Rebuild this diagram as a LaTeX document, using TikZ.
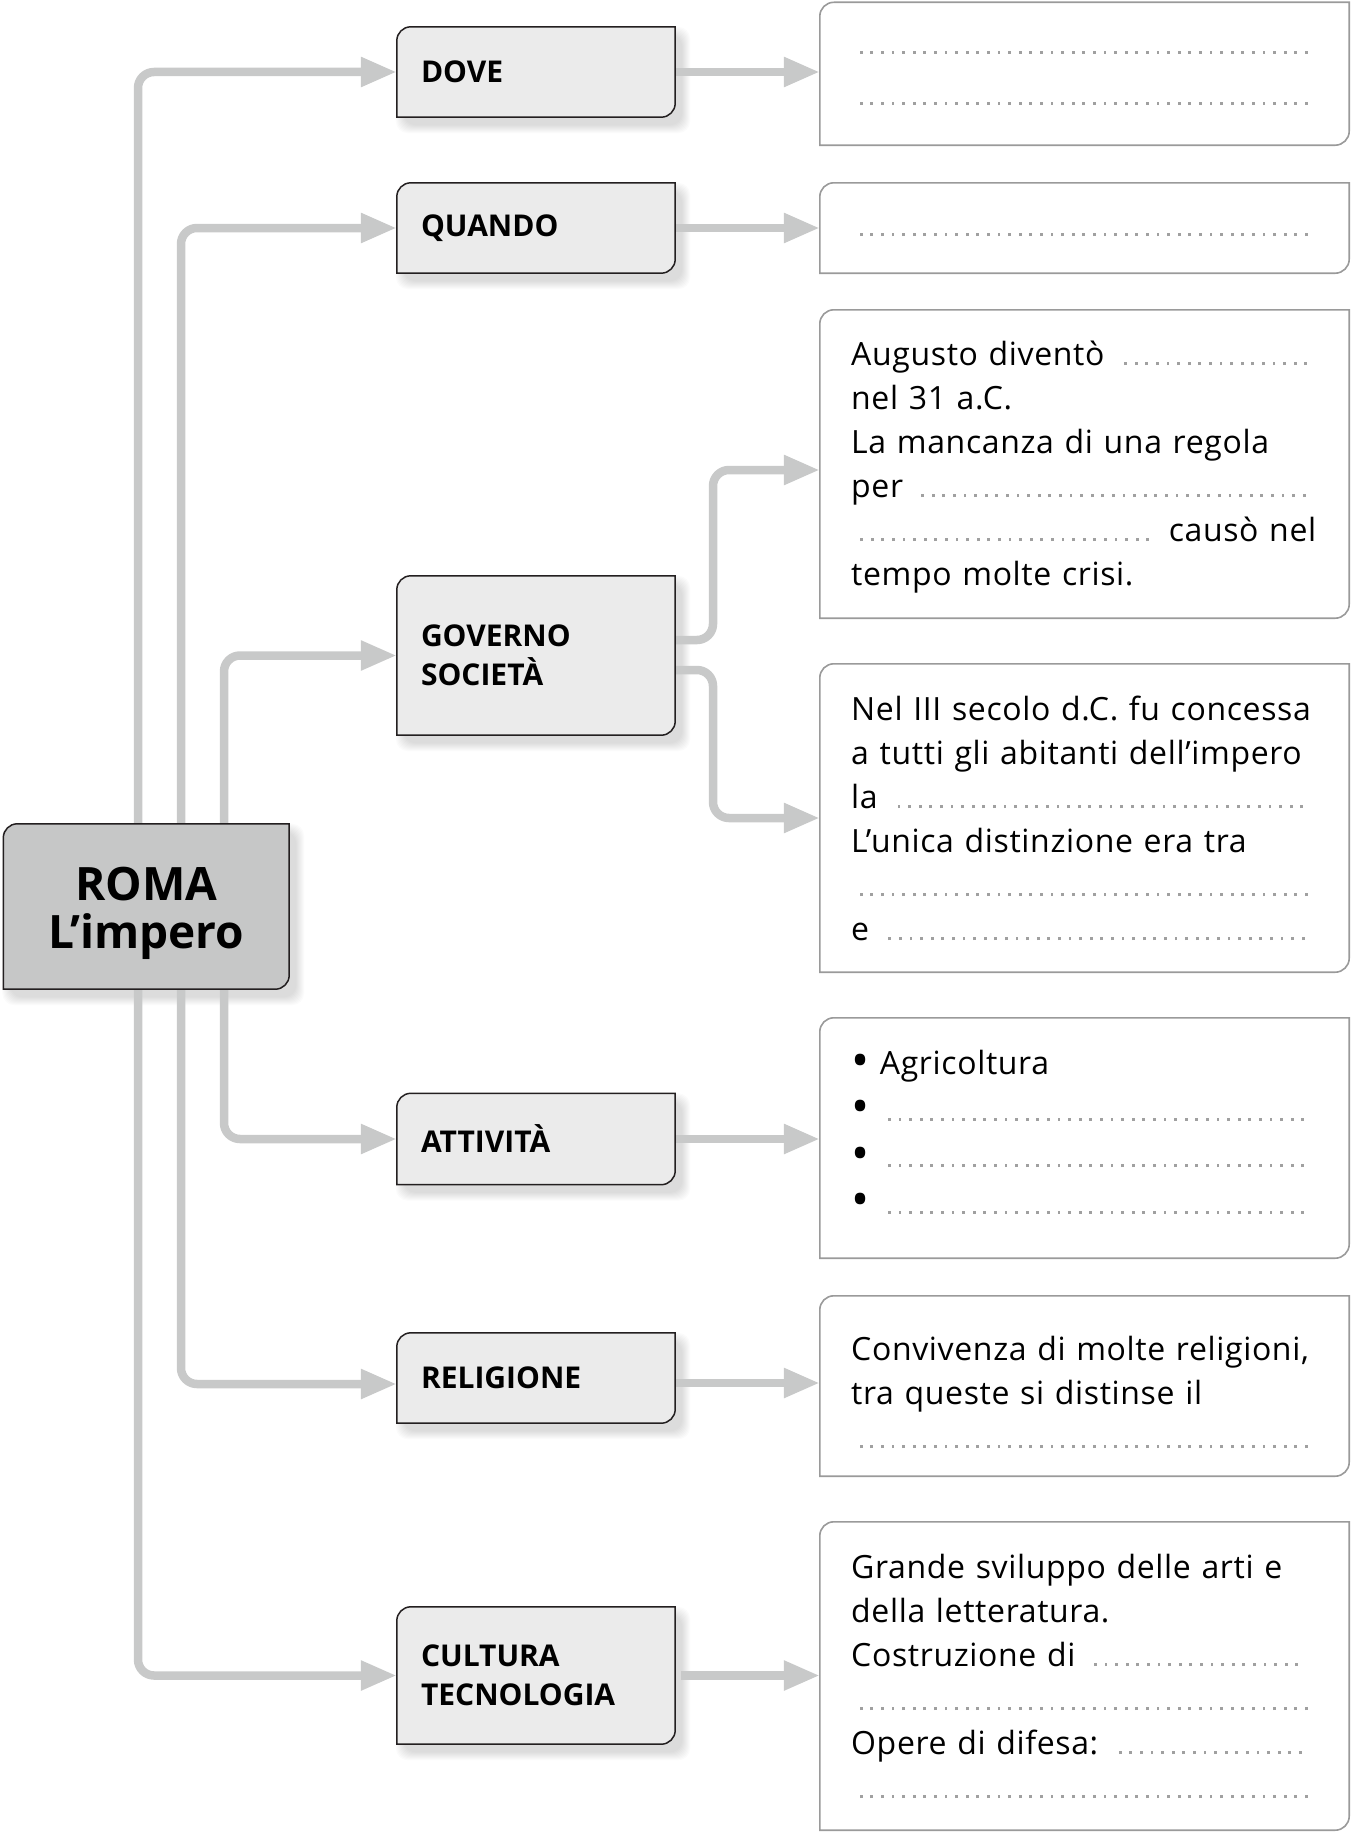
\documentclass[tikz,border=0pt]{standalone}
\usepackage{fontspec}
\setmainfont{Open Sans}
\newfontfamily\bodyfont{Open Sans}[LetterSpace=2]
\usetikzlibrary{arrows.meta}

\definecolor{arrowgray}{HTML}{C8C9C9}
\definecolor{boxfill}{HTML}{EBEBEB}
\definecolor{romafill}{HTML}{C6C7C7}
\definecolor{boxline}{HTML}{231F20}
\definecolor{cardline}{HTML}{9A9A9A}
\definecolor{dotgray}{HTML}{A0A0A0}

\pgfdeclarelayer{shade}
\pgfdeclarelayer{lines}
\pgfdeclarelayer{boxes}
\pgfsetlayers{shade,lines,boxes,main}

% dotted blank to be filled in
\newcommand\dotsfill{\leavevmode\cleaders\hbox to 10.6pt{\hss\textcolor{dotgray}{\rule{2.8pt}{2.8pt}}\hss}\hfill\kern0pt}
% large list bullet
\newcommand\bigbullet{\raisebox{-3pt}{\scalebox{1.5}{•}}}
% one full-width line of an answer box
\newcommand\tline[1]{\makebox[\linewidth][l]{#1}}
% box with rounded top-left and bottom-right corners
\newcommand\cardshape[2]{\path[#1] (#2.south west) -- ([yshift=-14pt]#2.north west)
  arc[start angle=180,end angle=90,radius=14pt] -- (#2.north east)
  -- ([yshift=14pt]#2.south east) arc[start angle=0,end angle=-90,radius=14pt] -- cycle;}
% soft drop shadow behind a box
\newcommand\softshadow[1]{\foreach \s in {0,1,...,8}{\fill[black,opacity=0.016,rounded corners=12pt]
  ([xshift={7-\s},yshift={-8-\s}]#1.south west) rectangle ([xshift={7+\s},yshift={-8+\s}]#1.north east);}}

\tikzset{
  conn/.style={line width=8.5pt, draw=arrowgray, rounded corners=16pt,
    -{Triangle[length=36pt,width=28pt]}},
  topic/.style={minimum width=278pt, text width=230pt, inner xsep=24pt, inner ysep=0pt,
    align=left, font=\fontsize{30}{38.5}\selectfont\bfseries},
  topicbox/.style={fill=boxfill, draw=boxline, line width=1.5pt},
  romabox/.style={fill=romafill, draw=boxline, line width=1.5pt},
  card/.style={minimum width=529pt, inner sep=0pt},
  cardbox/.style={fill=white, draw=cardline, line width=1.6pt},
  answer/.style={anchor=base west, text width=465pt, inner sep=0pt, align=left,
    font=\bodyfont\fontsize{32}{44}\selectfont},
}

\begin{document}
\begin{tikzpicture}[x=1pt,y=1pt]
\useasboundingbox (0,0) rectangle (1351,-1833);

% central topic
\node[minimum width=285.5pt, minimum height=165pt, inner sep=0pt, align=center,
  font=\fontsize{46}{48}\selectfont\bfseries] (roma) at (146.25,-906.5) {\rule{0pt}{47pt}ROMA\\L’impero};

% topics
\node[topic, minimum height=90pt]  (dove)   at (536,-72)     {DOVE};
\node[topic, minimum height=90pt]  (quando) at (536,-228)    {QUANDO};
\node[topic, minimum height=159pt] (gov)    at (536,-655.5)  {GOVERNO\\SOCIETÀ};
\node[topic, minimum height=91pt]  (att)    at (536,-1139)   {ATTIVITÀ};
\node[topic, minimum height=90pt]  (relig)  at (536,-1378)   {RELIGIONE};
\node[topic, minimum height=137pt] (cult)   at (536,-1675.5) {CULTURA\\TECNOLOGIA};

% answer boxes
\node[card, minimum height=142.5pt] (r1) at (1084.5,-73.75) {};
\node[card, minimum height=90pt]    (r2) at (1084.5,-228)   {};
\node[card, minimum height=308pt]   (r3) at (1084.5,-464)   {};
\node[card, minimum height=308pt]   (r4) at (1084.5,-818)   {};
\node[card, minimum height=240pt]   (r5) at (1084.5,-1138)  {};
\node[card, minimum height=180pt]   (r6) at (1084.5,-1386)  {};
\node[card, minimum height=308pt]   (r7) at (1084.5,-1676)  {};

% answer texts
\node[answer] (a1) at (851,-54) {\tline{\dotsfill}\\[7pt]\tline{\dotsfill}};
\node[answer] (a2) at (851,-236) {\tline{\dotsfill}};
\node[answer] (a3) at (851,-365) {\tline{Augusto diventò \dotsfill}\\
  \tline{nel 31 a.C.}\\
  \tline{La mancanza di una regola}\\
  \tline{per \dotsfill\kern3pt}\\
  \tline{\dotsfill\ causò nel}\\
  \tline{tempo molte crisi.}};
\node[answer] (a4) at (851,-720) {\tline{Nel III secolo d.C. fu concessa}\\
  \tline{a tutti gli abitanti dell’impero}\\
  \tline{la \dotsfill\kern4pt}\\
  \tline{L’unica distinzione era tra}\\
  \tline{\dotsfill}\\
  \tline{e \dotsfill\kern3pt}};
\node[answer] (a5) at (851,-1074) {\tline{\bigbullet\ Agricoltura}\\[2.5pt]
  \tline{\bigbullet\ \dotsfill\kern4pt}\\[2.5pt]
  \tline{\bigbullet\ \dotsfill\kern4pt}\\[2.5pt]
  \tline{\bigbullet\ \dotsfill\kern4pt}};
\node[answer] (a6) at (851,-1360) {\tline{Convivenza di molte religioni,}\\
  \tline{tra queste si distinse il}\\
  \tline{\dotsfill}};
\node[answer] (a7) at (851,-1578) {\tline{Grande sviluppo delle arti e}\\
  \tline{della letteratura.}\\
  \tline{Costruzione di \dotsfill\kern10pt}\\
  \tline{\dotsfill}\\
  \tline{Opere di difesa: \dotsfill\kern10pt}\\
  \tline{\dotsfill}};

% shadows
\begin{pgfonlayer}{shade}
  \softshadow{roma}
  \softshadow{dove}
  \softshadow{quando}
  \softshadow{gov}
  \softshadow{att}
  \softshadow{relig}
  \softshadow{cult}
\end{pgfonlayer}

% box outlines
\begin{pgfonlayer}{boxes}
  \cardshape{romabox}{roma}
  \cardshape{topicbox}{dove}
  \cardshape{topicbox}{quando}
  \cardshape{topicbox}{gov}
  \cardshape{topicbox}{att}
  \cardshape{topicbox}{relig}
  \cardshape{topicbox}{cult}
  \cardshape{cardbox}{r1}
  \cardshape{cardbox}{r2}
  \cardshape{cardbox}{r3}
  \cardshape{cardbox}{r4}
  \cardshape{cardbox}{r5}
  \cardshape{cardbox}{r6}
  \cardshape{cardbox}{r7}
\end{pgfonlayer}

% connectors
\coordinate (tA) at (138,0);
\coordinate (tB) at (181,0);
\coordinate (tC) at (224,0);
\coordinate (fork) at (713,0);
\begin{pgfonlayer}{lines}
  \draw[conn] (roma.north -| tA) |- (dove.west);
  \draw[conn] (roma.north -| tB) |- (quando.west);
  \draw[conn] (roma.north -| tC) |- (gov.west);
  \draw[conn] (roma.south -| tC) |- (att.west);
  \draw[conn] (roma.south -| tB) |- ([yshift=-6pt]relig.west);
  \draw[conn] (roma.south -| tA) |- (cult.west);

  \draw[conn] (dove.east) -- (dove.east -| r1.west);
  \draw[conn] (quando.east) -- (quando.east -| r2.west);
  \draw[conn] ([yshift=15.5pt]gov.east) -| ([yshift=-6pt]r3.west -| fork) -- ([yshift=-6pt]r3.west);
  \draw[conn] ([yshift=-14.5pt]gov.east) -| (r4.west -| fork) -- (r4.west);
  \draw[conn] (att.east) -- (att.east -| r5.west);
  \draw[conn] ([yshift=-5pt]relig.east) -- ([yshift=-5pt]relig.east -| r6.west);
  \draw[conn, shorten <=6pt] (cult.east) -- (cult.east -| r7.west);
\end{pgfonlayer}
\end{tikzpicture}
\end{document}
